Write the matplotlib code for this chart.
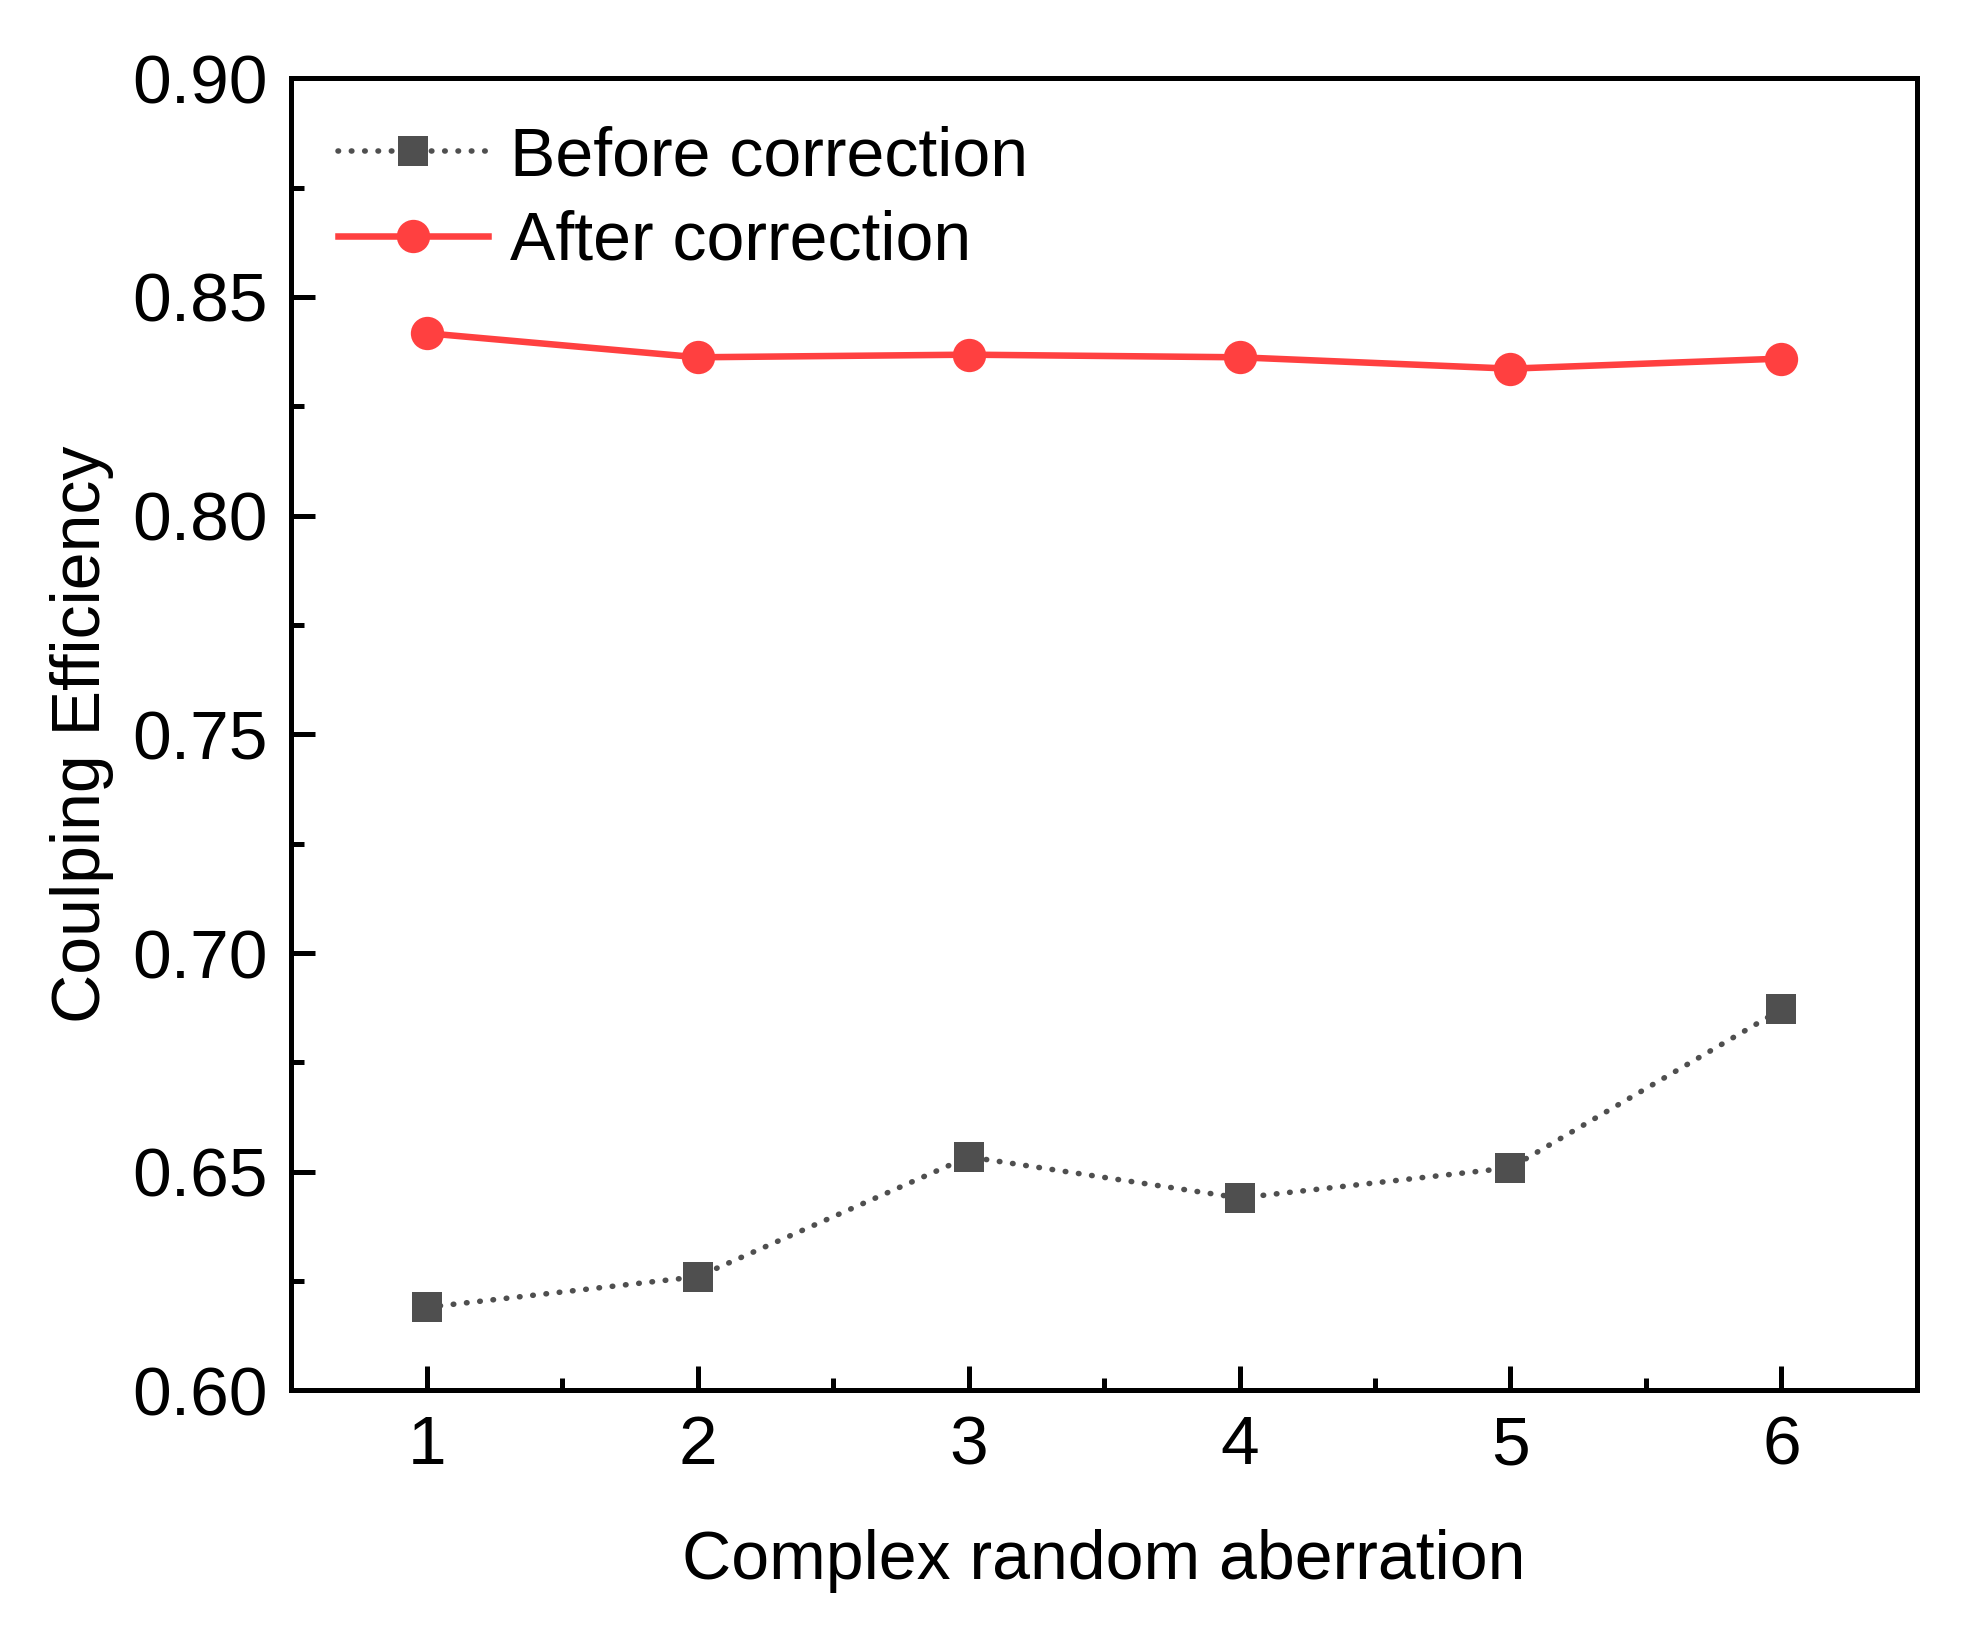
import matplotlib.pyplot as plt
from matplotlib.ticker import MultipleLocator

plt.rcParams['font.family'] = ['Liberation Sans', 'DejaVu Sans']

# Datos
x = [1, 2, 3, 4, 5, 6]
before = [0.619, 0.626, 0.6534, 0.644, 0.6509, 0.6871]
after = [0.8417, 0.8362, 0.8368, 0.8362, 0.8336, 0.8359]

fig = plt.figure(figsize=(19.68, 16.3), dpi=100)
ax = fig.add_axes([0.148, 0.147, 0.826, 0.805])

ax.plot(x, before, linestyle=(0, (0.1, 2.3)), dash_capstyle='round',
        color='#4f4f4f', linewidth=4, marker='s', markersize=22,
        markeredgewidth=0, label='Before correction')
ax.plot(x, after, linestyle='-', color='#ff4040', linewidth=4.7,
        marker='o', markersize=24, markeredgewidth=0, label='After correction')

ax.set_xlim(0.5, 6.5)
ax.set_ylim(0.60, 0.90)
ax.xaxis.set_major_locator(MultipleLocator(1))
ax.xaxis.set_minor_locator(MultipleLocator(0.5))
ax.yaxis.set_major_locator(MultipleLocator(0.05))
ax.yaxis.set_minor_locator(MultipleLocator(0.025))
ax.yaxis.set_major_formatter(plt.FormatStrFormatter('%.2f'))

ax.tick_params(which='both', direction='in', width=3.6, labelsize=50,
               top=False, right=False)
ax.tick_params(which='major', length=17, pad=17)
ax.tick_params(which='minor', length=9)
for s in ax.spines.values():
    s.set_linewidth(3.6)

ax.set_xlabel('Complex random aberration', fontsize=49, labelpad=37)
ax.set_ylabel('Coulping Efficiency', fontsize=49, labelpad=13)

ax.legend(loc='upper left', frameon=False, fontsize=49, handlelength=2.2,
          handletextpad=0.32, labelspacing=0.30, borderaxespad=0.29)

plt.savefig('out.png', dpi=100)
